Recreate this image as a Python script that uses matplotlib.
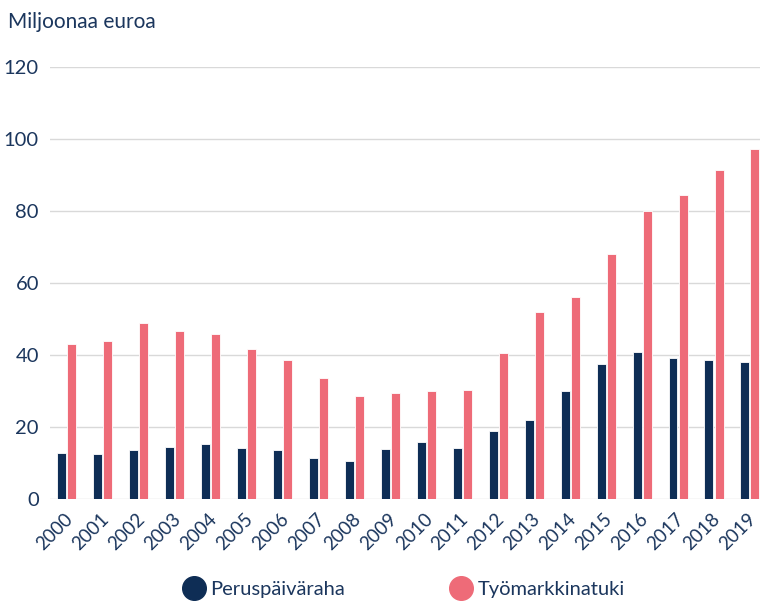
import matplotlib
matplotlib.use("Agg")
import matplotlib.pyplot as plt
import matplotlib.transforms as mtransforms
from matplotlib.lines import Line2D
import numpy as np

plt.rcParams['font.family'] = ['Lato', 'DejaVu Sans']

# data (million euros)
years = [str(y) for y in range(2000, 2020)]
peruspaivaraha = [12.8, 12.5, 13.6, 14.4, 15.3, 14.2, 13.6, 11.4, 10.5, 13.9,
                  15.8, 14.2, 18.9, 21.9, 30.0, 37.5, 40.8, 39.2, 38.6, 38.0]
tyomarkkinatuki = [43.0, 44.0, 49.0, 46.7, 45.8, 41.7, 38.6, 33.6, 28.6, 29.4,
                   30.0, 30.3, 40.6, 51.9, 56.1, 68.0, 80.0, 84.4, 91.4, 97.2]

navy = "#0e2d55"
red = "#ee6b78"
text_col = "#1b365d"

fig = plt.figure(figsize=(7.6, 6.02), dpi=100)
ax = fig.add_axes([50 / 760, 1 - 499 / 602, 710 / 760, 432 / 602])

x = np.arange(len(years))
w = 0.25
off = 0.14
ax.bar(x - off, peruspaivaraha, width=w, color=navy, edgecolor="white", linewidth=0.6, zorder=3)
ax.bar(x + off, tyomarkkinatuki, width=w, color=red, edgecolor="white", linewidth=0.6, zorder=3)

ax.set_ylim(0, 120)
ax.set_xlim(-0.47, 19.28)
ax.set_yticks(range(0, 121, 20))
ax.yaxis.grid(True, color="#d9d9d9", linewidth=1)
ax.set_axisbelow(True)
for s in ax.spines.values():
    s.set_visible(False)
ax.tick_params(axis="both", length=0, colors=text_col)
ax.tick_params(axis="y", labelsize=14.5, pad=8)
ax.tick_params(axis="x", pad=8)
ax.set_xticks(x)
ax.set_xticklabels(years, rotation=45, ha="right", va="top",
                   rotation_mode="anchor", fontsize=13.5)
shift = mtransforms.ScaledTranslation(-2 / 72, 0, fig.dpi_scale_trans)
for lbl in ax.get_xticklabels():
    lbl.set_transform(lbl.get_transform() + shift)

fig.text(8 / 760, 1 - 22 / 602, "Miljoonaa euroa", fontsize=15, color=text_col,
         ha="left", va="center")

handles = [
    Line2D([], [], marker="o", linestyle="none", markersize=17, color=navy),
    Line2D([], [], marker="o", linestyle="none", markersize=17, color=red),
]
leg = fig.legend(handles, ["Peruspäiväraha", "Työmarkkinatuki"], loc="center",
                 bbox_to_anchor=(403 / 760, 1 - 589 / 602), ncol=2, frameon=False,
                 fontsize=14.5, handletextpad=0.2, columnspacing=5.2, handlelength=1.2)
for t in leg.get_texts():
    t.set_color(text_col)

fig.savefig("out.png", dpi=100)
